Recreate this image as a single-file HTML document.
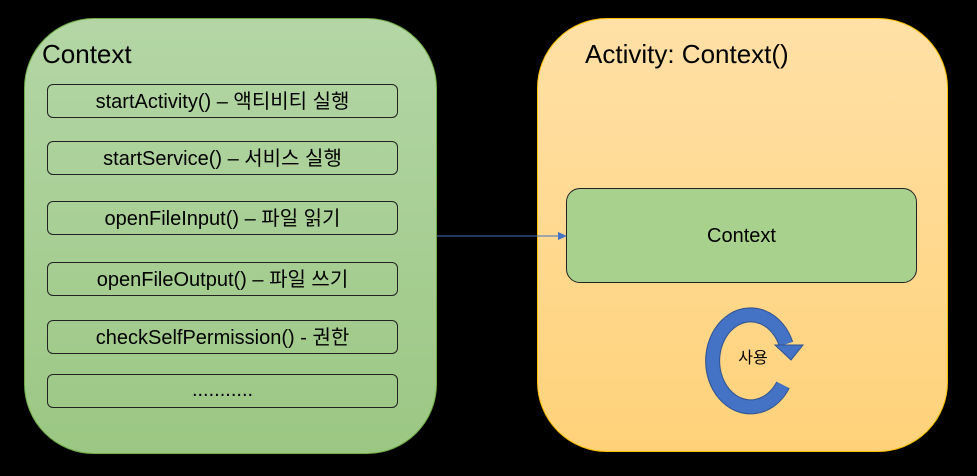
<!DOCTYPE html>
<html><head><meta charset="utf-8"><style>
body{margin:0;background:#000;width:977px;height:476px;overflow:hidden;position:relative;font-family:"Liberation Sans","Noto Sans CJK KR",sans-serif}
.big{position:absolute;border-radius:70px;box-sizing:border-box}
.l{left:24px;top:18px;width:413px;height:436px;background:linear-gradient(#b4d6a6,#9bc783);border:1px solid #70ad47}
.r{left:537px;top:18px;width:411px;height:434px;background:linear-gradient(#ffe0a6,#ffd27a);border:1px solid #ffc000}
.it{position:absolute;left:47px;width:351px;height:34px;border:1px solid #222;border-radius:6px;box-sizing:border-box;text-align:center;line-height:34px;font-size:20px;color:#000}
.t{position:absolute;font-size:26px;color:#000}
</style></head><body>
<div class="big l"></div>
<div class="big r"></div>
<div class="t" style="left:42px;top:39px">Context</div>
<div class="t" style="left:585px;top:39px">Activity: Context()</div>
<div class="it" style="top:84px">startActivity() – 액티비티 실행</div>
<div class="it" style="top:141px">startService() – 서비스 실행</div>
<div class="it" style="top:201px">openFileInput() – 파일 읽기</div>
<div class="it" style="top:262px">openFileOutput() – 파일 쓰기</div>
<div class="it" style="top:320px">checkSelfPermission() - 권한</div>
<div class="it" style="top:374px;line-height:30px">...........</div>
<div style="position:absolute;left:566px;top:188px;width:351px;height:95px;box-sizing:border-box;border:1px solid #222;border-radius:14px;background:#a9d18e;text-align:center;line-height:95px;font-size:20px">Context</div>
<svg width="977" height="476" style="position:absolute;left:0;top:0">
<line x1="437" y1="236" x2="560" y2="236" stroke="#4472c4" stroke-width="1"/>
<polygon points="567,236 558,232 558,240" fill="#4472c4"/>
<path d="M786,344 A38,46 0 1 0 783,385" fill="none" stroke="#2f528f" stroke-width="15"/>
<path d="M786,344 A38,46 0 1 0 783,385" fill="none" stroke="#4472c4" stroke-width="13"/>
<polygon points="775,345 803,345 791,360" fill="#4472c4" stroke="#2f528f" stroke-width="1"/>
<text x="753" y="363" font-size="16" text-anchor="middle" font-family="Liberation Sans,Noto Sans CJK KR,sans-serif">사용</text>
</svg>
</body></html>
